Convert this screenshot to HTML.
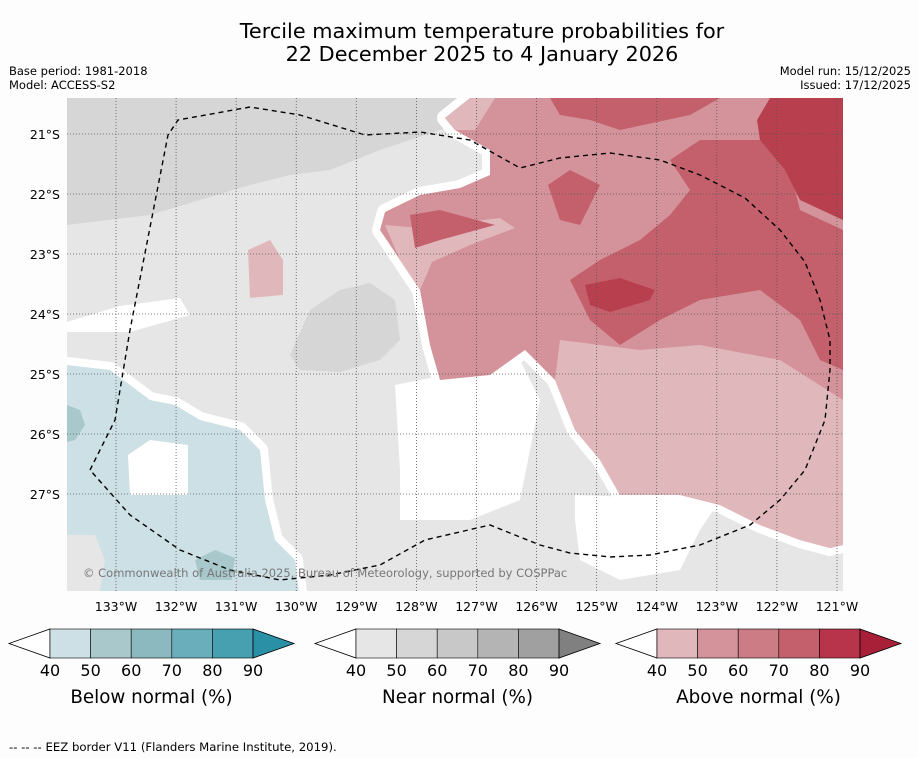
<!DOCTYPE html>
<html><head><meta charset="utf-8">
<style>
body{margin:0;background:#fdfdfd;width:919px;height:758px;overflow:hidden;font-family:"DejaVu Sans","Liberation Sans",sans-serif;}
svg{display:block}
</style></head>
<body>
<svg id="chart" width="919" height="758" viewBox="0 0 919 758" xmlns="http://www.w3.org/2000/svg" font-family="DejaVu Sans, Liberation Sans, sans-serif">
<rect width="919" height="758" fill="#fdfdfd"/>
<text x="482" y="38" text-anchor="middle" font-size="20.8" fill="#000">Tercile maximum temperature probabilities for</text>
<text x="482" y="61" text-anchor="middle" font-size="20.8" fill="#000">22 December 2025 to 4 January 2026</text>
<text x="9" y="75" font-size="11.5">Base period: 1981-2018</text>
<text x="9" y="89" font-size="11.5">Model: ACCESS-S2</text>
<text x="911" y="75" font-size="11.5" text-anchor="end">Model run: 15/12/2025</text>
<text x="911" y="89" font-size="11.5" text-anchor="end">Issued: 17/12/2025</text>
<defs><clipPath id="mapclip"><rect x="67" y="98" width="776" height="493"/></clipPath></defs>
<g clip-path="url(#mapclip)">
<rect x="67" y="98" width="776" height="493" fill="#e6e6e6"/>
<polygon fill="#d6d6d6" points="67,98 480,98 470,120 440,130 380,150 330,170 290,175 250,185 200,200 150,215 67,225"/>
<polygon fill="#d6d6d6" points="290,355 310,310 340,290 370,283 395,300 400,340 380,360 340,372 300,370"/>
<polygon fill="#fff" points="67,322 120,306 180,298 190,315 130,332 67,332"/>
<polygon fill="#fff" stroke="#fff" stroke-width="16" stroke-linejoin="round" points="67,365 110,370 150,400 175,405 200,420 240,430 260,450 265,500 275,540 295,560 300,600 67,600"/>
<polygon fill="#cce0e6" points="67,365 110,370 150,400 175,405 200,420 240,430 260,450 265,500 275,540 295,560 300,600 67,600"/>
<polygon fill="#a8c8cc" points="67,405 80,410 85,425 75,440 67,442"/>
<polygon fill="#a8c8cc" points="195,560 215,550 235,558 232,580 200,580"/>
<polygon fill="#fff" points="128,455 150,440 188,445 188,495 130,495"/>
<polygon fill="#e6e6e6" points="67,535 95,535 105,560 100,591 67,591"/>
<polygon fill="#fff" points="395,385 520,360 540,400 520,500 470,520 400,520 400,470"/>
<polygon fill="#fff" points="575,495 720,500 700,530 680,570 620,580 580,560 575,520"/>
<polygon fill="#fff" points="803,430 818,416 835,430 820,440"/>
<g>
<polygon fill="#fff" stroke="#fff" stroke-width="16" stroke-linejoin="round" points="495,98 843,98 843,545 830,548 800,540 760,525 720,505 680,495 620,495 600,460 575,430 555,380 525,350 490,375 440,380 430,345 420,290 400,260 380,230 385,212 420,195 460,188 490,175 490,150 455,130 445,118 470,98"/>
<polygon fill="#d4939a" points="495,98 843,98 843,545 830,548 800,540 760,525 720,505 680,495 620,495 600,460 575,430 555,380 525,350 490,375 440,380 430,345 420,290 400,260 380,230 385,212 420,195 460,188 490,175 490,150 455,130 445,118 470,98"/>
<polygon fill="#e0b8bc" points="560,340 640,350 700,345 780,360 843,400 843,545 830,548 800,540 760,525 720,505 680,495 620,495 600,460 575,430 555,380"/>
<polygon fill="#e0b8bc" points="400,260 420,290 432,262 470,245 515,228 500,218 420,228 385,225"/>
<polygon fill="#e0b8bc" points="445,118 470,98 495,98 475,130 455,130"/>
<polygon fill="#e0b8bc" points="740,225 770,212 810,225 790,250 770,248"/>
<polygon fill="#e0b8bc" points="248,250 270,240 283,260 283,295 250,298"/>
<polygon fill="#c4606c" points="570,280 600,260 640,240 670,215 690,190 670,160 700,140 760,140 790,170 800,210 843,230 843,370 820,360 800,320 760,290 700,300 660,320 620,345 590,320"/>
<polygon fill="#c4606c" points="550,98 720,98 690,115 620,130 590,120 560,115"/>
<polygon fill="#c4606c" points="548,185 570,170 600,185 580,225 560,220"/>
<polygon fill="#c4606c" points="410,215 440,210 495,225 440,240 415,248"/>
<polygon fill="#b8404e" points="770,98 843,98 843,220 800,200 785,170 760,140 757,120"/>
<polygon fill="#b8404e" points="585,285 620,278 655,290 650,300 610,312 590,305"/>
</g>
<path d="M90,470 L115,420 L130,330 L168,135 L178,120 L250,107 L300,115 L365,135 L420,132 L470,140 L520,168 L560,158 L610,153 L660,160 L700,175 L745,198 L780,230 L805,262 L820,300 L830,340 L830,370 L825,420 L805,470 L780,500 L750,525 L700,545 L650,555 L610,557 L570,553 L540,545 L490,525 L425,540 L380,565 L330,575 L280,580 L230,570 L180,550 L130,515 Z" fill="none" stroke="#000" stroke-width="1.4" stroke-dasharray="5,4"/>
<g id="grid"></g>
<text x="83" y="577" font-size="11.5" fill="#777">© Commonwealth of Australia 2025, Bureau of Meteorology, supported by COSPPac</text>
</g>
<g id="axes"></g>
<g id="bars"></g>
<text x="9" y="751" font-size="11.7">--  --  -- EEZ border V11 (Flanders Marine Institute, 2019).</text>
</svg>
<script>
const lonTicks=[133,132,131,130,129,128,127,126,125,124,123,122,121];
const latTicks=[21,22,23,24,25,26,27];
const cbLabels=[40,50,60,70,80,90];
const cbTitles=["Below normal (%)","Near normal (%)","Above normal (%)"];
const cbColors=[["#cce0e6","#a8c8cc","#8cb8c0","#6aaebc","#46a0b0","#2a90a6"],["#e6e6e6","#d6d6d6","#c8c8c8","#b4b4b4","#a0a0a0","#808080"],["#e0b8bc","#d4939a","#cc7c84","#c4606c","#b8344a","#a82038"]];
const NS="http://www.w3.org/2000/svg";
const xs=l=>116+(133-l)*60.08;
const ys=l=>134+(l-21)*60;
function mk(t,a,p){const e=document.createElementNS(NS,t);for(const k in a)e.setAttribute(k,a[k]);p.appendChild(e);return e;}
const grid=document.getElementById('grid'),axes=document.getElementById('axes');
lonTicks.forEach(l=>{
 const ln=mk('line',{x1:xs(l),x2:xs(l),y1:98,y2:591,stroke:'#555','stroke-width':0.8,'stroke-dasharray':'1,2'},grid);
 
 
 const t=mk('text',{x:xs(l),y:611,'font-size':12.5,'text-anchor':'middle'},axes);
 t.textContent=l+'°W';
 
 
});
latTicks.forEach(l=>{
 const ln=mk('line',{x1:67,x2:843,y1:ys(l),y2:ys(l),stroke:'#555','stroke-width':0.8,'stroke-dasharray':'1,2'},grid);
 
 
 const t=mk('text',{x:60,y:ys(l)+5,'font-size':12.5,'text-anchor':'end'},axes);
 t.textContent=l+'°S';
 
 
});
const bars=document.getElementById('bars');
[9,315,616].forEach((x0,i)=>{
 const g=mk('g',{},bars);
 
 
 const y0=629,h=29,bx=x0+41,bw=40.6;
 mk('polygon',{points:`${x0},${y0+h/2} ${bx},${y0} ${bx},${y0+h}`,fill:'#fff',stroke:'#000','stroke-width':0.8},g);
 for(let k=0;k<5;k++) mk('rect',{x:bx+k*bw,y:y0,width:bw,height:h,fill:cbColors[i][k],stroke:'#000','stroke-width':0.6},g);
 const ex=bx+5*bw;
 mk('polygon',{points:`${ex},${y0} ${ex+41},${y0+h/2} ${ex},${y0+h}`,fill:cbColors[i][5],stroke:'#000','stroke-width':0.8},g);
 cbLabels.forEach((v,k)=>{const t=mk('text',{x:bx+k*bw,y:676,'font-size':16,'text-anchor':'middle'},g);t.textContent=v;
  
  });
 const tt=mk('text',{x:bx+2.5*bw,y:703,'font-size':18.3,'text-anchor':'middle'},g);tt.textContent=cbTitles[i];
 
 
});
</script>
</body></html>
